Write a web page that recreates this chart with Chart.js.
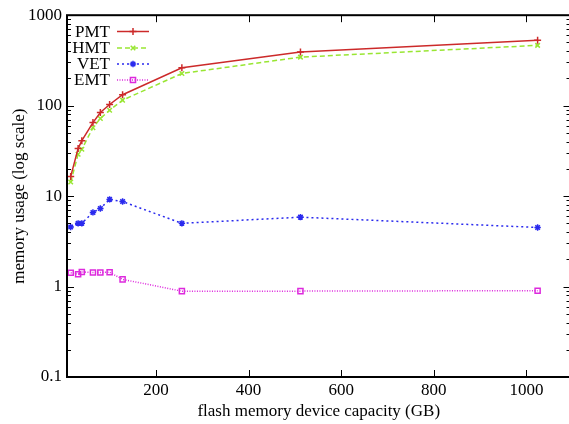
<!DOCTYPE html>
<html>
<head>
<meta charset="utf-8">
<script src="https://cdn.jsdelivr.net/npm/chart.js@4"></script>
<style>
  html, body { margin: 0; padding: 0; background: #fff; overflow: hidden; }
  #wrap { width: 569px; height: 424px; overflow: hidden; }
</style>
</head>
<body>
<div id="wrap"><canvas id="memChart" width="576" height="424"></canvas></div>
<script>
// capacity of the flash device in GB
const capacity = [16, 32, 40, 64, 80, 100, 128, 256, 512, 1024];
// memory usage per scheme
const pmtUsage = [16.5, 33.5, 41, 65, 84, 103, 132, 262, 392, 527];
const hmtUsage = [14.3, 29, 33, 57, 72, 89, 115, 227, 344, 464];
const vetUsage = [4.55, 5.0, 5.0, 6.6, 7.3, 9.2, 8.7, 5.0, 5.85, 4.5];
const emtUsage = [1.42, 1.37, 1.45, 1.43, 1.43, 1.44, 1.2, 0.89, 0.89, 0.9];

const xTicks = [200, 400, 600, 800, 1000];
const yTicks = [0.1, 1, 10, 100, 1000];

const serif = 'Liberation Serif';

function toPoints(values) {
    return capacity.map((c, i) => ({ x: c, y: values[i] }));
}

function series(label, values, color, dash, style, radius) {
    return {
        label: label,
        data: toPoints(values),
        borderColor: color,
        backgroundColor: 'rgba(0,0,0,0)',
        borderWidth: 1.5,
        borderDash: dash,
        pointStyle: style,
        pointRadius: radius,
        pointBorderWidth: 1.5,
        pointBorderColor: color,
        pointBackgroundColor: 'rgba(0,0,0,0)',
        tension: 0
    };
}

// gnuplot style frame with inward ticks
const framePlugin = {
    id: 'frame',
    afterDatasetsDraw(chart) {
        const { ctx, chartArea: a, scales } = chart;
        ctx.save();
        ctx.strokeStyle = '#000';
        ctx.lineWidth = 2;
        ctx.strokeRect(a.left, a.top, a.right - a.left, a.bottom - a.top);
        ctx.lineWidth = 1;
        ctx.beginPath();
        xTicks.forEach(v => {
            const x = Math.round(scales.x.getPixelForValue(v)) + 0.5;
            ctx.moveTo(x, a.bottom); ctx.lineTo(x, a.bottom - 7);
            ctx.moveTo(x, a.top); ctx.lineTo(x, a.top + 7);
        });
        for (let d = 0.1; d < 1000; d *= 10) {
            for (let m = 1; m <= 9; m++) {
                const v = d * m;
                const y = Math.round(scales.y.getPixelForValue(v)) + 0.5;
                const len = m === 1 ? 7 : 4;
                ctx.moveTo(a.left, y); ctx.lineTo(a.left + len, y);
                ctx.moveTo(a.right, y); ctx.lineTo(a.right - len, y);
            }
        }
        const yTop = Math.round(scales.y.getPixelForValue(1000)) + 0.5;
        ctx.moveTo(a.left, yTop); ctx.lineTo(a.left + 7, yTop);
        ctx.stroke();
        ctx.restore();
    }
};

// key: text first, then line sample, like gnuplot
const keyPlugin = {
    id: 'key',
    afterDatasetsDraw(chart) {
        const { ctx } = chart;
        const rowY = [31.5, 48, 64, 80];
        ctx.save();
        ctx.font = '17px "' + serif + '"';
        ctx.textAlign = 'right';
        ctx.textBaseline = 'middle';
        chart.data.datasets.forEach((ds, i) => {
            const y = rowY[i];
            ctx.fillStyle = '#000';
            ctx.fillText(ds.label, 110, y + 1);
            ctx.strokeStyle = ds.borderColor;
            ctx.lineWidth = ds.borderWidth;
            ctx.setLineDash(ds.borderDash);
            ctx.beginPath();
            ctx.moveTo(117, y); ctx.lineTo(149, y);
            ctx.stroke();
            ctx.setLineDash([]);
            ctx.fillStyle = 'rgba(0,0,0,0)';
            ctx.lineWidth = ds.pointBorderWidth;
            Chart.helpers.drawPoint(ctx, {
                pointStyle: ds.pointStyle,
                radius: ds.pointRadius,
                borderWidth: ds.pointBorderWidth
            }, 133, y);
        });
        ctx.restore();
    }
};

const chart = new Chart(document.getElementById('memChart'), {
    type: 'line',
    data: {
        datasets: [
            series('PMT', pmtUsage, '#cc2a2a', [], 'cross', 3.5),
            series('HMT', hmtUsage, '#99e633', [5, 3], 'crossRot', 3.2),
            series('VET', vetUsage, '#2a2aee', [2, 3], 'star', 3.2),
            series('EMT', emtUsage, '#dd2add', [1, 1.5], 'rect', 3.6)
        ]
    },
    options: {
        responsive: false,
        animation: false,
        devicePixelRatio: 1,
        layout: { padding: { left: 0, top: 15, right: 2, bottom: 0 } },
        plugins: {
            legend: { display: false },
            tooltip: { enabled: false }
        },
        scales: {
            x: {
                type: 'linear',
                min: 8,
                max: 1095,
                grid: { display: false, drawTicks: false },
                border: { display: false },
                afterBuildTicks: s => { s.ticks = xTicks.map(v => ({ value: v })); },
                afterFit: s => { s.height = 47; },
                ticks: {
                    padding: 3,
                    maxRotation: 0,
                    color: '#000',
                    font: { family: serif, size: 17 },
                    callback: v => String(v)
                },
                title: {
                    display: true,
                    text: 'flash memory device capacity (GB)',
                    color: '#000',
                    font: { family: serif, size: 17 },
                    padding: { top: 0, bottom: 2 }
                }
            },
            y: {
                type: 'logarithmic',
                min: 0.1,
                max: 1000,
                grid: { display: false, drawTicks: false },
                border: { display: false },
                afterBuildTicks: s => { s.ticks = yTicks.map(v => ({ value: v })); },
                afterFit: s => { s.width = 67; },
                ticks: {
                    padding: 5,
                    color: '#000',
                    font: { family: serif, size: 17 },
                    callback: v => String(v)
                },
                title: {
                    display: true,
                    text: 'memory usage (log scale)',
                    color: '#000',
                    font: { family: serif, size: 17 },
                    padding: { top: 9, bottom: 0 }
                }
            }
        }
    },
    plugins: [framePlugin, keyPlugin]
});
</script>
</body>
</html>
